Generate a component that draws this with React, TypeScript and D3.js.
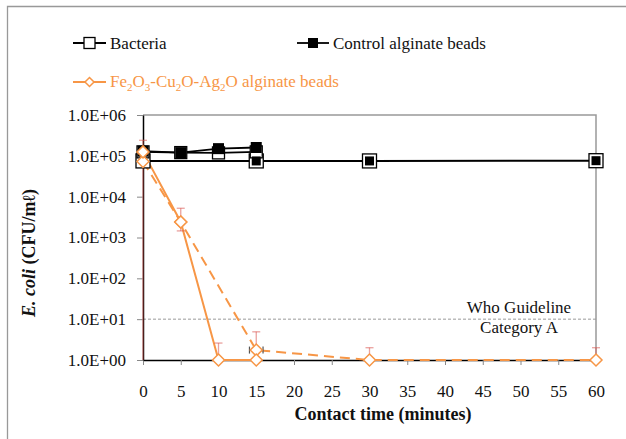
import { useEffect, useRef } from "react";
import * as d3 from "d3";

const W = 626;
const H = 439;
const ORANGE = "#f79646";
const FONT = "'Liberation Serif', 'Times New Roman', serif";

// x ticks (minutes) and y ticks (decades)
const xTicks = [0, 5, 10, 15, 20, 25, 30, 35, 40, 45, 50, 55, 60];
const yTicks = [1, 10, 100, 1000, 10000, 100000, 1000000];

// Bacteria (open squares)
const bacteriaX = [0, 15, 30, 60];
const bacteriaY = [7.5e4, 7.5e4, 7.5e4, 7.6e4];
// second bacteria run (open squares, no legend)
const bacteria2X = [0, 5, 10, 15];
const bacteria2Y = [1.25e5, 1.2e5, 1.18e5, 1.25e5];

// Control alginate beads (filled squares)
const controlX = [0, 5, 10, 15];
const controlY = [1.3e5, 1.2e5, 1.5e5, 1.6e5];
const control2X = [15, 30, 60];
const control2Y = [7.5e4, 7.5e4, 7.6e4];

// Fe2O3-Cu2O-Ag2O beads, solid and dashed runs
const feX = [0, 5, 10, 15];
const feY = [1.25e5, 2.4e3, 1, 1];
const fe2X = [0, 5, 15, 30, 60];
const fe2Y = [7.3e4, 2.4e3, 1.75, 1, 1];

// error bars
const errX = [0, 5, 10, 15, 30, 60];
const errHi = [2.4e5, 5.2e3, 2.6, 4.9, 2.0, 2.0];
const errLo = [1, 1.45e3, 1, 1, 1, 1];
const hErrX = 15;
const hErrY = 1.75;
const hErr = 0.9;

const WHO_LIMIT = 10;

const fmtExp = (v: number) => {
  const e = Math.round(Math.log10(v));
  return `1.0E+${String(e).padStart(2, "0")}`;
};

export default function App() {
  const xAxisRef = useRef<SVGGElement>(null);
  const yAxisRef = useRef<SVGGElement>(null);

  const x = d3.scaleLinear().domain([0, 60]).range([143, 596]);
  const y = d3.scaleLog().domain([1, 1e6]).range([360, 115]);

  useEffect(() => {
    const gx = d3.select(xAxisRef.current);
    gx.selectAll("*").remove();
    gx.call(
      d3.axisBottom(x).tickValues(xTicks).tickSize(5).tickPadding(20).tickSizeOuter(0)
    );
    gx.select(".domain").attr("stroke", "#000").attr("stroke-width", 1.5);
    gx.selectAll(".tick line").attr("stroke", "#888");
    gx.selectAll(".tick text")
      .attr("font-family", FONT)
      .attr("font-size", 17)
      .attr("fill", "#111");

    const gy = d3.select(yAxisRef.current);
    gy.selectAll("*").remove();
    gy.call(
      d3.axisLeft(y).tickValues(yTicks).tickFormat((d) => fmtExp(+d)).tickSize(6).tickPadding(11).tickSizeOuter(0)
    );
    gy.select(".domain").attr("stroke", "#000").attr("stroke-width", 1.5);
    gy.selectAll(".tick line").attr("stroke", "#888");
    gy.selectAll(".tick text")
      .attr("font-family", FONT)
      .attr("font-size", 17)
      .attr("fill", "#111");
  }, []);

  const line = (xs: number[], ys: number[]) =>
    d3.line<number>().x((d) => x(d)).y((_, i) => y(ys[i]))(xs) || "";

  const openSq = (cx: number, cy: number, key: string, s = 13) => (
    <rect key={key} x={cx - s / 2} y={cy - s / 2} width={s} height={s} fill="#fff" stroke="#000" strokeWidth={1.3} />
  );
  const fillSq = (cx: number, cy: number, key: string, s = 10) => (
    <rect key={key} x={cx - s / 2} y={cy - s / 2} width={s} height={s} fill="#000" />
  );
  const diamond = (cx: number, cy: number, key: string, r = 6) => (
    <path
      key={key}
      d={`M${cx},${cy - r}L${cx + r},${cy}L${cx},${cy + r}L${cx - r},${cy}Z`}
      fill="#fff"
      stroke={ORANGE}
      strokeWidth={1.5}
    />
  );

  const ERR = "#d9534f";

  return (
    <svg width={W} height={H} style={{ position: "absolute", left: 0, top: 0 }} fontFamily={FONT}>
      <rect x={0} y={0} width={W} height={H} fill="#fff" />
      {/* outer frame */}
      <path d={`M7.5,${H}V6.5H${W}`} fill="none" stroke="#999" strokeWidth={1.3} />

      {/* plot border top/right */}
      <path d={`M${x(0)},${y(1e6)}H${x(60)}V${y(1)}`} fill="none" stroke="#999" strokeWidth={1.5} />

      {/* WHO guideline */}
      <line x1={x(0)} x2={x(60)} y1={y(WHO_LIMIT)} y2={y(WHO_LIMIT)} stroke="#999" strokeWidth={1} strokeDasharray="3,2" />
      <text x={519} y={313} fontSize={17} textAnchor="middle" fill="#111">Who Guideline</text>
      <text x={519} y={333} fontSize={17} textAnchor="middle" fill="#111">Category A</text>

      <g ref={xAxisRef} transform={`translate(0,${y(1)})`} />
      <g ref={yAxisRef} transform={`translate(${x(0)},0)`} />

      {/* lines */}
      <path d={line(bacteriaX, bacteriaY)} fill="none" stroke="#000" strokeWidth={2} />
      <path d={line(bacteria2X, bacteria2Y)} fill="none" stroke="#000" strokeWidth={1.8} />
      <path d={line(controlX, controlY)} fill="none" stroke="#000" strokeWidth={1.8} />
      <path d={line(fe2X, fe2Y)} fill="none" stroke={ORANGE} strokeWidth={2} strokeDasharray="10,6" />
      <path d={line(feX, feY)} fill="none" stroke={ORANGE} strokeWidth={2} />

      {/* error bars */}
      {errX.map((v, i) => {
        const cx = x(v);
        return (
          <g key={`e${i}`} stroke={ERR} strokeOpacity={0.55} strokeWidth={1.3}>
            <line x1={cx} x2={cx} y1={y(errHi[i])} y2={y(errLo[i])} />
            <line x1={cx - 4} x2={cx + 4} y1={y(errHi[i])} y2={y(errHi[i])} />
            {errLo[i] > 1 && <line x1={cx - 4} x2={cx + 4} y1={y(errLo[i])} y2={y(errLo[i])} />}
          </g>
        );
      })}
      <g stroke="#555" strokeWidth={1.2}>
        <line x1={x(hErrX - hErr)} x2={x(hErrX + hErr)} y1={y(hErrY)} y2={y(hErrY)} />
        <line x1={x(hErrX - hErr)} x2={x(hErrX - hErr)} y1={y(hErrY) - 3.5} y2={y(hErrY) + 3.5} />
        <line x1={x(hErrX + hErr)} x2={x(hErrX + hErr)} y1={y(hErrY) - 3.5} y2={y(hErrY) + 3.5} />
      </g>

      {/* markers */}
      {bacteriaX.map((v, i) => openSq(x(v), y(bacteriaY[i]), `b${i}`, 14))}
      {bacteria2X.map((v, i) => openSq(x(v), y(bacteria2Y[i]), `b2${i}`, 12))}
      {controlX.map((v, i) => fillSq(x(v), y(controlY[i]), `c${i}`, 11))}
      {control2X.map((v, i) => fillSq(x(v), y(control2Y[i]), `c2${i}`, 9))}
      {fe2X.map((v, i) => diamond(x(v), y(fe2Y[i]), `f2${i}`))}
      {feX.map((v, i) => diamond(x(v), y(feY[i]), `f${i}`))}

      {/* legend */}
      <line x1={73} x2={106} y1={43} y2={43} stroke="#000" strokeWidth={1.8} />
      {openSq(89.5, 43, "lb", 11)}
      <text x={110} y={49} fontSize={17} fill="#111">Bacteria</text>
      <line x1={297} x2={329} y1={43} y2={43} stroke="#000" strokeWidth={1.8} />
      {fillSq(313, 43, "lc", 10)}
      <text x={333} y={49} fontSize={17} fill="#111">Control alginate beads</text>
      <line x1={73} x2={106} y1={82} y2={82} stroke={ORANGE} strokeWidth={1.8} />
      {diamond(89.5, 82, "lf", 4.5)}
      <text x={110} y={87} fontSize={17} fill={ORANGE}>
        Fe<tspan fontSize={11} dy={4}>2</tspan>
        <tspan dy={-4}>O</tspan>
        <tspan fontSize={11} dy={4}>3</tspan>
        <tspan dy={-4}>-Cu</tspan>
        <tspan fontSize={11} dy={4}>2</tspan>
        <tspan dy={-4}>O-Ag</tspan>
        <tspan fontSize={11} dy={4}>2</tspan>
        <tspan dy={-4}>O alginate beads</tspan>
      </text>

      {/* axis titles */}
      <text x={383} y={420} fontSize={18} fontWeight="bold" textAnchor="middle" fill="#111">
        Contact time (minutes)
      </text>
      <text
        transform="translate(35,253) rotate(-90)"
        fontSize={18}
        fontWeight="bold"
        textAnchor="middle"
        fill="#111"
      >
        <tspan fontStyle="italic">E. coli</tspan> (CFU/mℓ)
      </text>
    </svg>
  );
}
